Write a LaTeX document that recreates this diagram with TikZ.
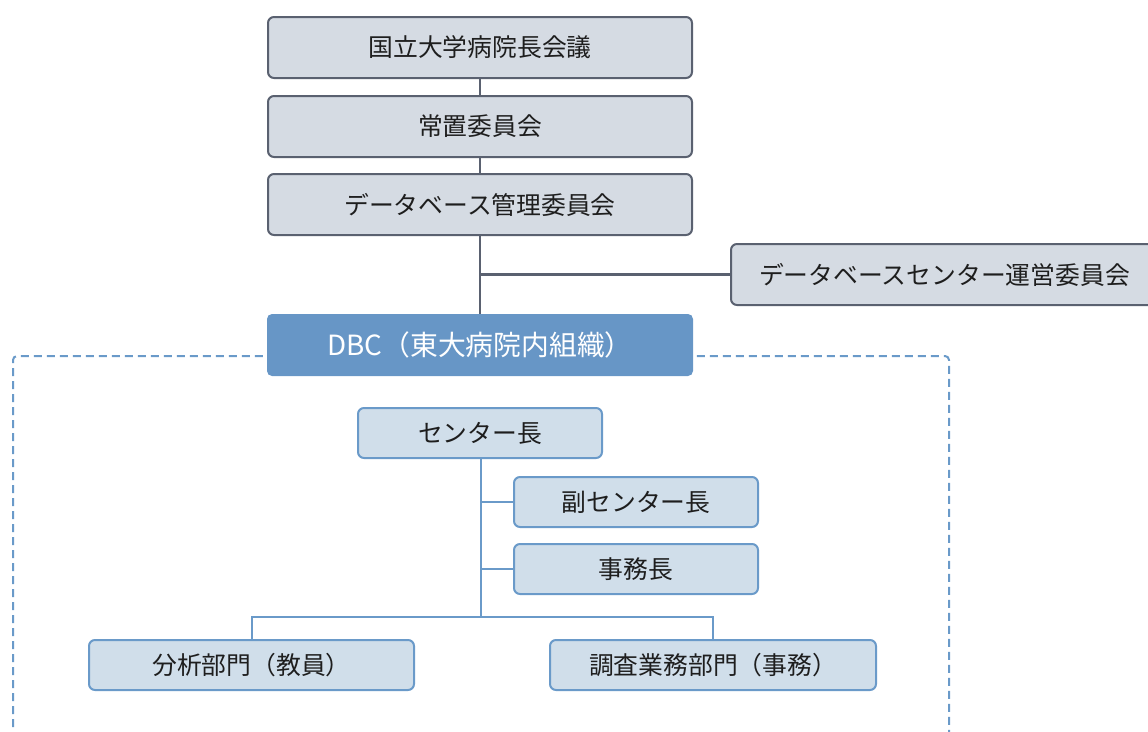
\documentclass[tikz,border=0pt]{standalone}
\usepackage{fontspec}
\setmainfont{Noto Sans CJK JP}
\definecolor{topfill}{HTML}{D5DBE3}
\definecolor{topline}{HTML}{5A6170}
\definecolor{lowfill}{HTML}{D0DEEA}
\definecolor{lowline}{HTML}{6A9AC9}
\definecolor{dbcfill}{HTML}{6796C6}
\definecolor{txt}{HTML}{1E1E1E}
\tikzset{
  topbox/.style={draw=topline, fill=topfill, line width=2pt, rounded corners=6pt,
    minimum width=424pt, minimum height=61pt, inner sep=0pt, text=txt, font=\fontsize{24.8}{28}\selectfont},
  lowbox/.style={draw=lowline, fill=lowfill, line width=2pt, rounded corners=6pt,
    minimum height=50pt, inner sep=0pt, text=txt, font=\fontsize{24.8}{28}\selectfont},
  dbcbox/.style={fill=dbcfill, rounded corners=5pt, minimum width=426pt, minimum height=62pt,
    inner sep=0pt, text=white, font=\fontsize{27.8}{32}\selectfont},
  topconn/.style={draw=topline, line width=2.2pt},
  lowconn/.style={draw=lowline, line width=2pt},
  frame/.style={draw=lowline, line width=2pt, dash pattern=on 8pt off 5pt, rounded corners=4pt}
}
\begin{document}
\begin{tikzpicture}[x=1pt,y=-1pt]
\useasboundingbox (0,0) rectangle (1148,731);
% dashed frame
\coordinate (fl) at (13,740);
\coordinate (fr) at (949,740);
\draw[frame] (fl) -- (13,356) -- (949,356) -- (fr);
% top chain
\node[topbox] (b1) at (480,47.5) {国立大学病院長会議};
\node[topbox] (b2) at (480,126.5) {常置委員会};
\node[topbox] (b3) at (480,204.5) {データベース管理委員会};
\node[topbox, minimum width=427pt, anchor=west] (b4) at (730,274.5) {データベースセンター運営委員会};
\node[dbcbox] (dbc) at (480,345) {DBC（東大病院内組織）};
\draw[topconn] (b1) -- (b2);
\draw[topconn] (b2) -- (b3);
\draw[topconn] (b3) -- (dbc);
\draw[topconn] (b3.south |- b4.west) -- (b4.west);
% lower tree
\node[lowbox, minimum width=244pt] (c1) at (480,433) {センター長};
\node[lowbox, minimum width=244pt] (c2) at (636,502) {副センター長};
\node[lowbox, minimum width=244pt] (c3) at (636,569) {事務長};
\node[lowbox, minimum width=325pt] (d1) at (251.5,665) {分析部門（教員）};
\node[lowbox, minimum width=326pt] (d2) at (713,665) {調査業務部門（事務）};
\coordinate (j) at (481,617);
\draw[lowconn] (c1.south -| j) -- (j);
\draw[lowconn] (c2.west -| j) -- (c2.west);
\draw[lowconn] (c3.west -| j) -- (c3.west);
\draw[lowconn] (d1.north) -- (d1.north |- j) -- (d2.north |- j) -- (d2.north);
\end{tikzpicture}
\end{document}
